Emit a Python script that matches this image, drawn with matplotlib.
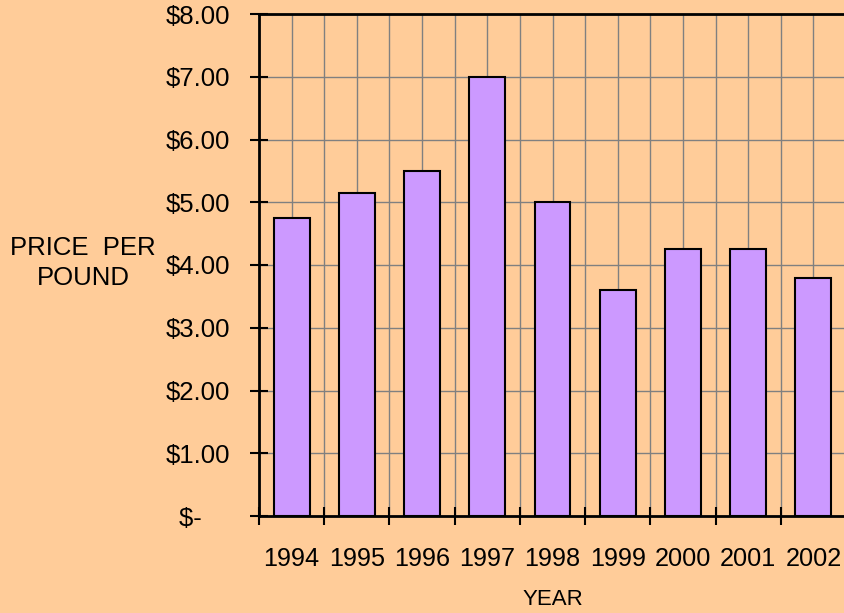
import matplotlib
matplotlib.use("Agg")
import matplotlib.pyplot as plt
import numpy as np
from matplotlib.ticker import FixedLocator, NullFormatter, FixedFormatter

years = ["1994", "1995", "1996", "1997", "1998", "1999", "2000", "2001", "2002"]
prices = [4.75, 5.15, 5.50, 7.00, 5.00, 3.60, 4.25, 4.25, 3.80]
y_ticks = [0, 1, 2, 3, 4, 5, 6, 7, 8]
y_labels = ["$-    ", "$1.00", "$2.00", "$3.00", "$4.00", "$5.00", "$6.00", "$7.00", "$8.00"]

BG = "#FFCC99"
BAR = "#CC99FF"
GRID = "#808080"

plt.rcParams['font.family'] = ['Liberation Sans', 'DejaVu Sans']

fig = plt.figure(figsize=(8.44, 6.13), dpi=100, facecolor=BG)
ax = fig.add_axes([259/844, 1-516/613, (846-259)/844, (516-14)/613])
ax.set_facecolor(BG)

x = np.arange(len(years))
ax.bar(x, prices, width=0.55, color=BAR, edgecolor="black", linewidth=1.5, zorder=3)

ax.set_xlim(-0.5, len(years) - 0.5)
ax.set_ylim(0, 8)

# x: boundaries as major ticks, centers as minor with labels
ax.xaxis.set_major_locator(FixedLocator(np.arange(len(years) + 1) - 0.5))
ax.xaxis.set_major_formatter(NullFormatter())
ax.xaxis.set_minor_locator(FixedLocator(x))
ax.xaxis.set_minor_formatter(FixedFormatter(years))
ax.tick_params(axis="x", which="major", direction="inout", length=13, width=1.5, color="black")
ax.tick_params(axis="x", which="minor", length=0, pad=22, labelsize=18.2)

ax.yaxis.set_major_locator(FixedLocator(y_ticks))
ax.yaxis.set_major_formatter(FixedFormatter(y_labels))
ax.tick_params(axis="y", which="major", direction="inout", length=13, width=1.5, pad=14, labelsize=18.5)

ax.set_axisbelow(True)
ax.grid(True, axis="y", which="major", color=GRID, linewidth=1)
ax.grid(True, axis="x", which="both", color=GRID, linewidth=1)

for s in ["left", "top", "bottom"]:
    ax.spines[s].set_linewidth(2)
    ax.spines[s].set_color("black")
    ax.spines[s].set_zorder(5)
ax.spines["right"].set_visible(False)

ax.set_xlabel("YEAR", fontsize=16, labelpad=13)
fig.text(83/844, 1-263/613, "PRICE  PER\nPOUND", ha="center", va="center",
         fontsize=18.5, multialignment="center", linespacing=1.3)

fig.savefig("out.png", dpi=100, facecolor=BG)
